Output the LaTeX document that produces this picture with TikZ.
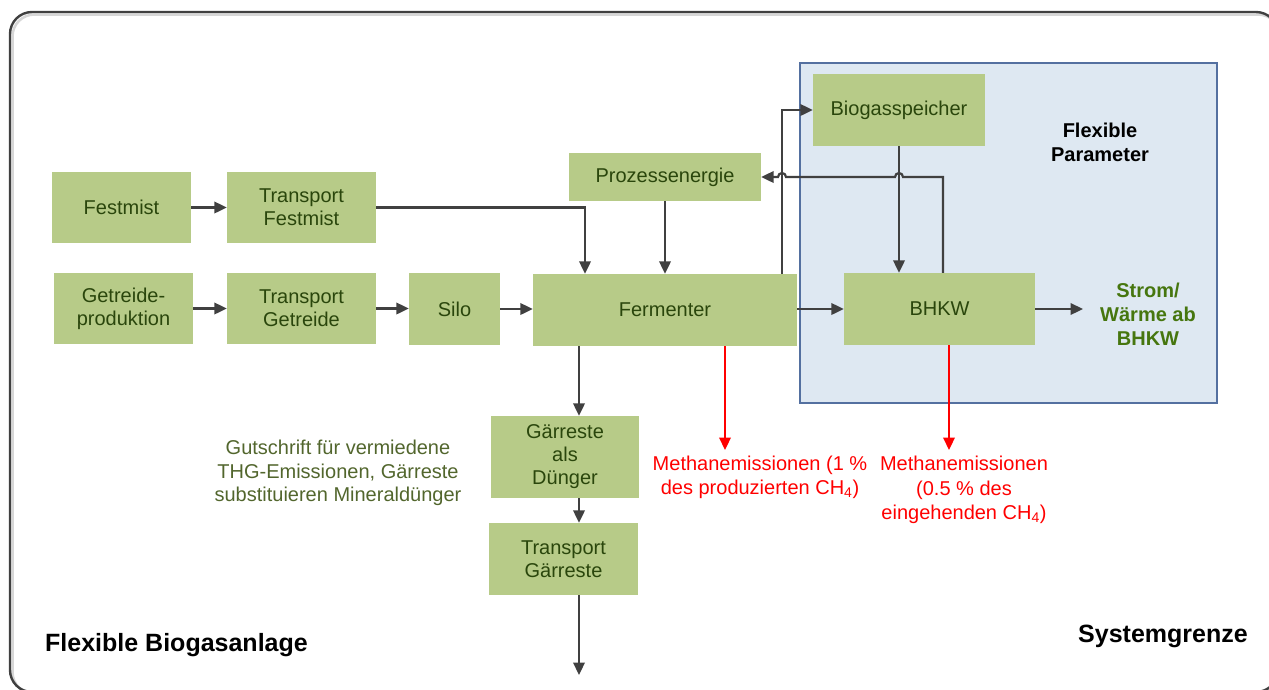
\documentclass[tikz,border=0pt]{standalone}
\usepackage{fontspec}
\setmainfont{Liberation Sans}
\usetikzlibrary{arrows.meta,calc}
\definecolor{boxgreen}{RGB}{183,203,136}
\definecolor{boxtext}{RGB}{42,70,12}
\definecolor{linegray}{RGB}{64,64,64}
\definecolor{bluefill}{RGB}{222,232,242}
\definecolor{blueborder}{RGB}{84,112,160}
\definecolor{stromgreen}{RGB}{70,118,15}
\definecolor{olivetext}{RGB}{82,102,45}
\definecolor{shadowgray}{RGB}{215,215,215}
\begin{document}
\begin{tikzpicture}[x=1pt,y=-1pt,
  stepbox/.style={fill=boxgreen,text=boxtext,inner sep=0pt,align=center,
    font=\fontsize{20}{23}\selectfont},
  arr/.style={draw=linegray,line width=2.2pt,-{Triangle[length=12.5pt,width=11.5pt]}},
  redarr/.style={draw=red,line width=2.2pt,-{Triangle[length=12.5pt,width=11.5pt]}},
  lbl/.style={align=center,inner sep=0pt,font=\fontsize{20}{23.5}\selectfont},
  big/.style={inner sep=0pt,font=\fontsize{25}{30}\selectfont\bfseries}]
\useasboundingbox (0,0) rectangle (1269,689);
% outer frame
\draw[shadowgray,line width=2.5pt,rounded corners=22pt] (12.5,14.5) rectangle (1280,694);
\draw[linegray,line width=2.4pt,rounded corners=22pt] (10,12) rectangle (1278,692);
% blue area
\draw[fill=bluefill,draw=blueborder,line width=1.5pt] (800,63) rectangle (1217,403);
% boxes
\node[stepbox,minimum width=139pt,minimum height=71pt] (fest) at (121.5,207.5) {Festmist};
\node[stepbox,minimum width=149pt,minimum height=71pt] (tfest) at (301.5,207.5) {Transport\\Festmist};
\node[stepbox,minimum width=139pt,minimum height=71pt] (getr) at (123.5,308.5) {Getreide-\\produktion};
\node[stepbox,minimum width=149pt,minimum height=71pt] (tgetr) at (301.5,308.5) {Transport\\Getreide};
\node[stepbox,minimum width=91pt,minimum height=72pt] (silo) at (454.5,309) {Silo};
\node[stepbox,minimum width=264pt,minimum height=72pt] (ferm) at (665,310) {Fermenter};
\node[stepbox,minimum width=191pt,minimum height=72pt] (bhkw) at (939.5,309) {BHKW};
\node[stepbox,minimum width=172pt,minimum height=72pt] (bgs) at (899,110) {Biogasspeicher};
\node[stepbox,minimum width=192pt,minimum height=48pt] (proz) at (665,177) {Prozessenergie};
\node[stepbox,minimum width=148pt,minimum height=82pt] (gdung) at (565,457) {Gärreste\\als\\Dünger};
\node[stepbox,minimum width=149pt,minimum height=72pt] (tgaer) at (563.5,559) {Transport\\Gärreste};
% text labels
\node[lbl,font=\fontsize{20}{24}\selectfont\bfseries] (param) at (1100,142) {Flexible\\Parameter};
\node[lbl,text=stromgreen,font=\fontsize{20}{24}\selectfont\bfseries,inner xsep=17pt] (strom) at (1148,314) {Strom/\\Wärme ab\\BHKW};
\node[lbl,text=olivetext] (gut) at (338,473) {Gutschrift für vermiedene\\THG-Emissionen, Gärreste\\substituieren Mineraldünger};
\node[lbl,text=red,anchor=north] (m1) at (760,456) {Methanemissionen (1 \%\\des produzierten CH\textsubscript{4})};
\node[lbl,text=red,anchor=north,font=\fontsize{20}{24.5}\selectfont] (m2) at (964,456) {Methanemissionen\\(0.5 \% des\\eingehenden CH\textsubscript{4})};
\node[big,anchor=base west] (fba) at (45,651) {Flexible Biogasanlage};
\node[big,anchor=base west] (sys) at (1078,642) {Systemgrenze};
% coordinates
\coordinate (xA) at (585,0);
\coordinate (xB) at (782,0);
\coordinate (xC) at (943,0);
\coordinate (xG) at (579,0);
\coordinate (xR1) at (725,0);
\coordinate (xR2) at (949,0);
\coordinate (hopA) at (903,177);
\coordinate (hopB) at (786,177);
\coordinate (endG) at (579,675);
\coordinate (endR1) at (725,450);
\coordinate (endR2) at (949,450);
% connectors
\draw[arr] (fest.east) -- (tfest.west);
\draw[arr] (tfest.east) -| (ferm.north -| xA);
\draw[arr] (getr.east) -- (tgetr.west);
\draw[arr] (tgetr.east) -- (silo.west |- tgetr.east);
\draw[arr] (silo.east) -- (ferm.west |- silo.east);
\draw[arr] (proz.south) -- (proz.south |- ferm.north);
\draw[arr] (ferm.north -| xB) |- (bgs.west);
\draw[arr] (bgs.south) -- (bgs.south |- bhkw.north);
\draw[arr] (bhkw.north -| xC) |- (hopA) arc[start angle=0,end angle=-180,radius=4]
   -- (hopB) arc[start angle=0,end angle=-180,radius=4] -- (proz.east);
\draw[arr] (ferm.east |- bhkw.west) -- (bhkw.west);
\draw[arr] (bhkw.east) -- (strom.west |- bhkw.east);
\draw[arr] (ferm.south -| xG) -- (gdung.north -| xG);
\draw[arr] (gdung.south -| xG) -- (tgaer.north -| xG);
\draw[arr] (tgaer.south -| xG) -- (endG);
\draw[redarr] (ferm.south -| xR1) -- (endR1);
\draw[redarr] (bhkw.south -| xR2) -- (endR2);
\end{tikzpicture}
\end{document}
